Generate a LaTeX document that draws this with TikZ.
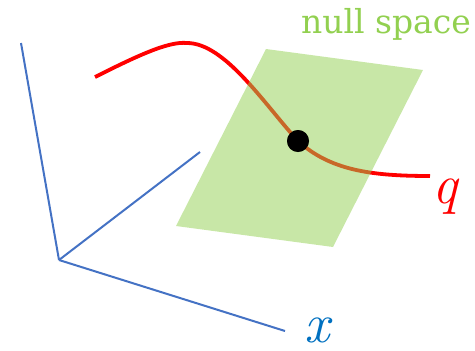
\documentclass[tikz,border=0pt]{standalone}
\usepackage{fontspec}
\newfontfamily\labelfont{DejaVu Serif}
\usepackage{xcolor}
\usetikzlibrary{positioning}

\definecolor{axisblue}{HTML}{4472C4}
\definecolor{labelblue}{HTML}{0070C0}
\definecolor{spacegreen}{HTML}{92D050}

\begin{document}
\begin{tikzpicture}[
        x=1pt, y=-1pt,
        axis/.style={draw=axisblue, line width=2pt},
        curve/.style={draw=red, line width=3.8pt},
        plane/.style={fill=spacegreen, fill opacity=0.5},
        dot/.style={circle, fill=black, inner sep=0pt, minimum size=22pt},
        varlabel/.style={inner sep=0pt, font=\itshape\fontsize{56}{56}\selectfont, anchor=base}
    ]
        \useasboundingbox (0,0) rectangle (475,351);
        % axes
        \coordinate (o)  at (59,260);
        \coordinate (up) at (21,43);
        \coordinate (dp) at (200,152);
        \coordinate (xe) at (285,331);
        \draw[axis] (o) -- (up);
        \draw[axis] (o) -- (dp);
        \draw[axis] (o) -- (xe);
        \node[varlabel, text=labelblue] (xlab) at (317,342) {x};
        % curve q
        \coordinate (qs) at (95,77);
        \coordinate (qt) at (187,43);
        \coordinate (qe) at (430,176);
        \node[dot] (pt) at (298,141) {};
        \draw[curve] (qs) .. controls (135,57) and (168,41) .. (qt)
            .. controls (225,43) and (265,105) .. (pt.center)
            .. controls (330,170) and (370,176) .. (qe);
        \node[varlabel, text=red] (qlab) at (445,203) {q};
        % null space
        \fill[plane] (266,49) -- (423,70) -- (333,247) -- (176,226) -- cycle;
        \node[dot] at (pt) {};
        \node[inner sep=0pt, text=spacegreen, font=\labelfont\fontsize{33}{33}\selectfont, anchor=base] (ns) at (386,33) {null space};
    \end{tikzpicture}
\end{document}
